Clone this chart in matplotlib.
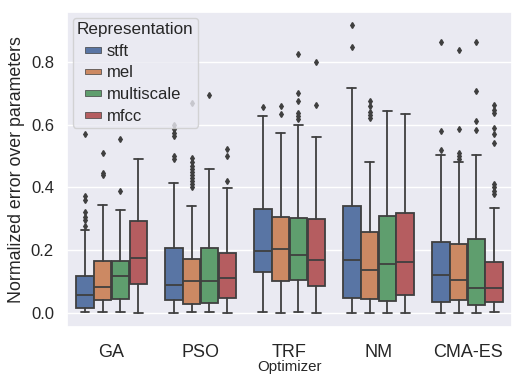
import matplotlib
matplotlib.use("Agg")
import matplotlib.pyplot as plt
import matplotlib.patches as mpatches
from matplotlib.legend_handler import HandlerPatch
import seaborn as sns

optimizers = ["GA", "PSO", "TRF", "NM", "CMA-ES"]
representations = ["stft", "mel", "multiscale", "mfcc"]

# per optimizer, per representation: [whislo, q1, med, q3, whishi]
stft_stats = [
    [0.002, 0.016, 0.058, 0.118, 0.264],
    [0.000, 0.040, 0.089, 0.206, 0.414],
    [0.002, 0.131, 0.197, 0.332, 0.627],
    [0.000, 0.048, 0.169, 0.341, 0.717],
    [0.000, 0.033, 0.121, 0.226, 0.504],
]
mel_stats = [
    [0.003, 0.040, 0.082, 0.165, 0.343],
    [0.003, 0.029, 0.101, 0.173, 0.340],
    [0.000, 0.102, 0.204, 0.305, 0.574],
    [0.000, 0.045, 0.135, 0.258, 0.480],
    [0.000, 0.040, 0.105, 0.220, 0.480],
]
multiscale_stats = [
    [0.003, 0.045, 0.116, 0.165, 0.328],
    [0.003, 0.030, 0.103, 0.207, 0.459],
    [0.002, 0.104, 0.183, 0.302, 0.600],
    [0.000, 0.036, 0.156, 0.309, 0.645],
    [0.000, 0.026, 0.078, 0.236, 0.503],
]
mfcc_stats = [
    [0.000, 0.092, 0.174, 0.294, 0.491],
    [0.000, 0.048, 0.112, 0.191, 0.399],
    [0.000, 0.085, 0.167, 0.298, 0.560],
    [0.000, 0.057, 0.163, 0.319, 0.635],
    [0.002, 0.035, 0.078, 0.163, 0.333],
]

stft_fliers = [
    [0.276, 0.296, 0.306, 0.322, 0.361, 0.372, 0.571],
    [0.49, 0.50, 0.563, 0.574, 0.587, 0.60],
    [0.656],
    [0.848, 0.917],
    [0.518, 0.581, 0.863],
]
mel_fliers = [
    [0.439, 0.446, 0.51],
    [0.40, 0.41, 0.42, 0.43, 0.44, 0.45, 0.46, 0.47, 0.48, 0.494, 0.669],
    [0.634, 0.659],
    [0.622, 0.63, 0.64, 0.659, 0.677],
    [0.49, 0.50, 0.51, 0.588, 0.84],
]
multiscale_fliers = [
    [0.39, 0.553],
    [0.696],
    [0.618, 0.627, 0.638, 0.675, 0.701, 0.827],
    [],
    [0.582, 0.611, 0.707, 0.864],
]
mfcc_fliers = [
    [],
    [0.42, 0.50, 0.523],
    [0.664, 0.801],
    [],
    [0.38, 0.39, 0.40, 0.41, 0.542, 0.569, 0.59, 0.638, 0.646, 0.664],
]

all_stats = [stft_stats, mel_stats, multiscale_stats, mfcc_stats]
all_fliers = [stft_fliers, mel_fliers, multiscale_fliers, mfcc_fliers]

sns.set_theme(style="darkgrid")
plt.rcParams["font.family"] = ["Liberation Sans", "DejaVu Sans"]

colors = [sns.desaturate(c, 0.75) for c in sns.color_palette("deep", 4)]
line_col = "#3f3f3f"

fig = plt.figure(figsize=(5.12, 3.74), dpi=100)
ax = fig.add_axes([0.131, 0.126, 0.869, 0.842])

box_w = 0.2
for j, (stats, fliers) in enumerate(zip(all_stats, all_fliers)):
    bxp_stats = []
    positions = []
    for i, (s, f) in enumerate(zip(stats, fliers)):
        bxp_stats.append({"whislo": s[0], "q1": s[1], "med": s[2],
                          "q3": s[3], "whishi": s[4], "fliers": f})
        positions.append(i - 0.4 + box_w * (j + 0.5))
    ax.bxp(bxp_stats, positions=positions, widths=box_w * 0.98,
           patch_artist=True, showfliers=True,
           boxprops=dict(facecolor=colors[j], edgecolor=line_col, linewidth=1.3),
           medianprops=dict(color=line_col, linewidth=1.3),
           whiskerprops=dict(color=line_col, linewidth=1.3),
           capprops=dict(color=line_col, linewidth=1.3),
           flierprops=dict(marker="d", markersize=3, markerfacecolor=line_col,
                           markeredgecolor=line_col, linestyle="none"),
           manage_ticks=False)

ax.set_xlim(-0.5, len(optimizers) - 0.5)
ax.set_ylim(-0.045, 0.96)
ax.set_xticks(range(len(optimizers)))
ax.set_xticklabels(optimizers, fontsize=13)
ax.set_yticks([0.0, 0.2, 0.4, 0.6, 0.8])
ax.set_yticklabels(["0.0", "0.2", "0.4", "0.6", "0.8"], fontsize=12)
ax.tick_params(axis="x", pad=6.5)
ax.grid(axis="x", visible=False)
ax.set_xlabel("Optimizer", fontsize=10.8, labelpad=-1)
ax.set_ylabel("Normalized error over parameters", fontsize=12.8, color="#262626")


# small swatch sitting in the right part of the handle box
def small_swatch(legend, orig_handle, xdescent, ydescent, width, height, fontsize):
    h = 5.5 * 72 / fig.dpi
    return mpatches.Rectangle((-xdescent + width * 0.34, -ydescent + (height - h) / 2),
                              width * 0.66, h)


handles = [mpatches.Patch(facecolor=c, edgecolor=line_col, linewidth=0.5, label=r)
           for c, r in zip(colors, representations)]
leg = ax.legend(handles=handles, title="Representation", loc="upper left",
                fontsize=12, title_fontsize=12.3, borderaxespad=0.35,
                handlelength=1.45, handleheight=0.7, labelspacing=0.4,
                borderpad=0.25, handletextpad=0.35,
                handler_map={mpatches.Patch: HandlerPatch(patch_func=small_swatch)})
leg._legend_box.align = "left"

fig.savefig("out.png", dpi=100)
